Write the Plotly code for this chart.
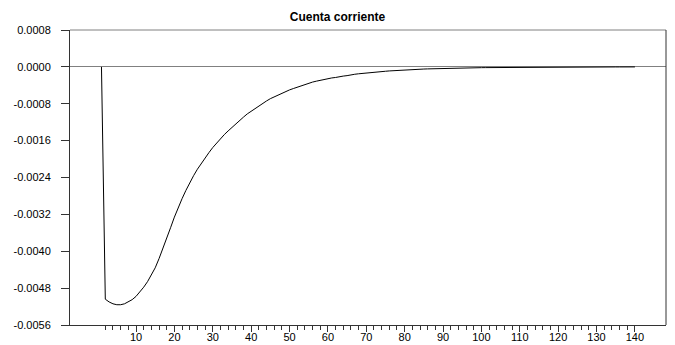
import plotly.graph_objects as go

# Impulse response of the current account, periods 1..140
periods = list(range(1, 141))
cuenta_corriente = [
    0.0, -0.00504, -0.00510, -0.00514, -0.00516, -0.00516, -0.00514, -0.00510, -0.00505, -0.00498,
    -0.00489, -0.00478, -0.00466, -0.00452, -0.00436, -0.00416, -0.00395, -0.00373, -0.00349, -0.00326,
    -0.00305, -0.00286, -0.00268, -0.00251, -0.00236, -0.00222, -0.00209, -0.00197, -0.00186, -0.00175,
    -0.00165, -0.00156, -0.00147, -0.00139, -0.00131, -0.00123, -0.00116, -0.00109, -0.00102, -0.00096,
    -0.00090, -0.00084, -0.00079, -0.00074, -0.00069, -0.00065, -0.00061, -0.00057, -0.00053, -0.00050,
    -0.00047, -0.00044, -0.00041, -0.00038, -0.00036, -0.00033, -0.00031, -0.00029, -0.00027, -0.00026,
    -0.00024, -0.00023, -0.00021, -0.00020, -0.00019, -0.00017, -0.00016, -0.00015, -0.00014, -0.00013,
    -0.000125, -0.000117, -0.000109, -0.000102, -0.000095, -0.000088, -0.000082, -0.000077, -0.000072, -0.000067,
    -0.000062, -0.000058, -0.000054, -0.000050, -0.000047, -0.000044, -0.000041, -0.000038, -0.000036, -0.000033,
    -0.000031, -0.000029, -0.000027, -0.000025, -0.000023, -0.000022, -0.000020, -0.000019, -0.000018, -0.000017,
    -0.000016, -0.000015, -0.000014, -0.000013, -0.000012, -0.000011, -0.000010, -0.0000095, -0.0000090, -0.0000085,
    -0.0000080, -0.0000075, -0.0000070, -0.0000065, -0.0000060, -0.0000056, -0.0000052, -0.0000048, -0.0000045, -0.0000042,
    -0.0000039, -0.0000036, -0.0000034, -0.0000032, -0.0000030, -0.0000028, -0.0000026, -0.0000024, -0.0000022, -0.0000020,
    -0.0000019, -0.0000018, -0.0000017, -0.0000016, -0.0000015, -0.0000014, -0.0000013, -0.0000012, -0.0000011, -0.0000010,
]

x_major_ticks = list(range(10, 141, 10))
x_minor_ticks = list(range(2, 141, 2))
y_ticks = [0.0008, 0.0, -0.0008, -0.0016, -0.0024, -0.0032, -0.0040, -0.0048, -0.0056]
y_tick_labels = ["0.0008", "0.0000", "-0.0008", "-0.0016", "-0.0024", "-0.0032", "-0.0040", "-0.0048", "-0.0056"]

X_RANGE = [-7.2, 148.1]
FONT = "Liberation Sans, Arial, sans-serif"
AXIS = "#333333"

fig = go.Figure()
fig.add_trace(go.Scatter(
    x=periods, y=cuenta_corriente, mode="lines",
    line=dict(color="black", width=1), showlegend=False, hoverinfo="skip",
))

fig.update_layout(
    width=675, height=345,
    margin=dict(l=70, r=9, t=30, b=20, autoexpand=False),
    paper_bgcolor="white", plot_bgcolor="white",
    font=dict(family=FONT, size=11, color="black"),
    title=dict(text="<b>Cuenta corriente</b>", font=dict(family=FONT, size=12, color="black"),
               x=0.5, xref="container", xanchor="center",
               y=1 - 17 / 345, yref="container", yanchor="middle"),
    xaxis=dict(
        range=X_RANGE, showgrid=False, zeroline=False, automargin=False,
        showline=True, linecolor=AXIS, linewidth=1,
        tickmode="array", tickvals=x_major_ticks, ticktext=[str(v) for v in x_major_ticks],
        ticks="outside", ticklen=6, tickwidth=1, tickcolor=AXIS,
        ticklabelstandoff=-4, tickfont=dict(size=11),
    ),
    # secondary x axis carrying the small period ticks (every 2 periods)
    xaxis2=dict(
        range=X_RANGE, overlaying="x", side="bottom", anchor="y",
        showgrid=False, zeroline=False, showline=False, automargin=False,
        tickmode="array", tickvals=x_minor_ticks, showticklabels=False,
        ticks="outside", ticklen=4, tickwidth=1, tickcolor=AXIS,
    ),
    yaxis=dict(
        range=[-0.0056, 0.0008], showgrid=False, automargin=False,
        zeroline=True, zerolinecolor="#808080", zerolinewidth=1,
        showline=True, linecolor=AXIS, linewidth=1,
        tickmode="array", tickvals=y_ticks, ticktext=y_tick_labels,
        ticks="outside", ticklen=8, tickwidth=1, tickcolor=AXIS,
        ticklabelstandoff=8, tickfont=dict(size=11),
    ),
    shapes=[
        dict(type="line", xref="paper", yref="paper", x0=0, x1=1, y0=1, y1=1,
             line=dict(color="#808080", width=1)),
        dict(type="line", xref="paper", yref="paper", x0=1, x1=1, y0=0, y1=1,
             line=dict(color=AXIS, width=1)),
    ],
)

# an invisible trace so the secondary axis is drawn
fig.add_trace(go.Scatter(x=[X_RANGE[0]], y=[0], xaxis="x2", mode="markers",
                         marker=dict(opacity=0), showlegend=False, hoverinfo="skip"))

fig.write_html("out.html")
